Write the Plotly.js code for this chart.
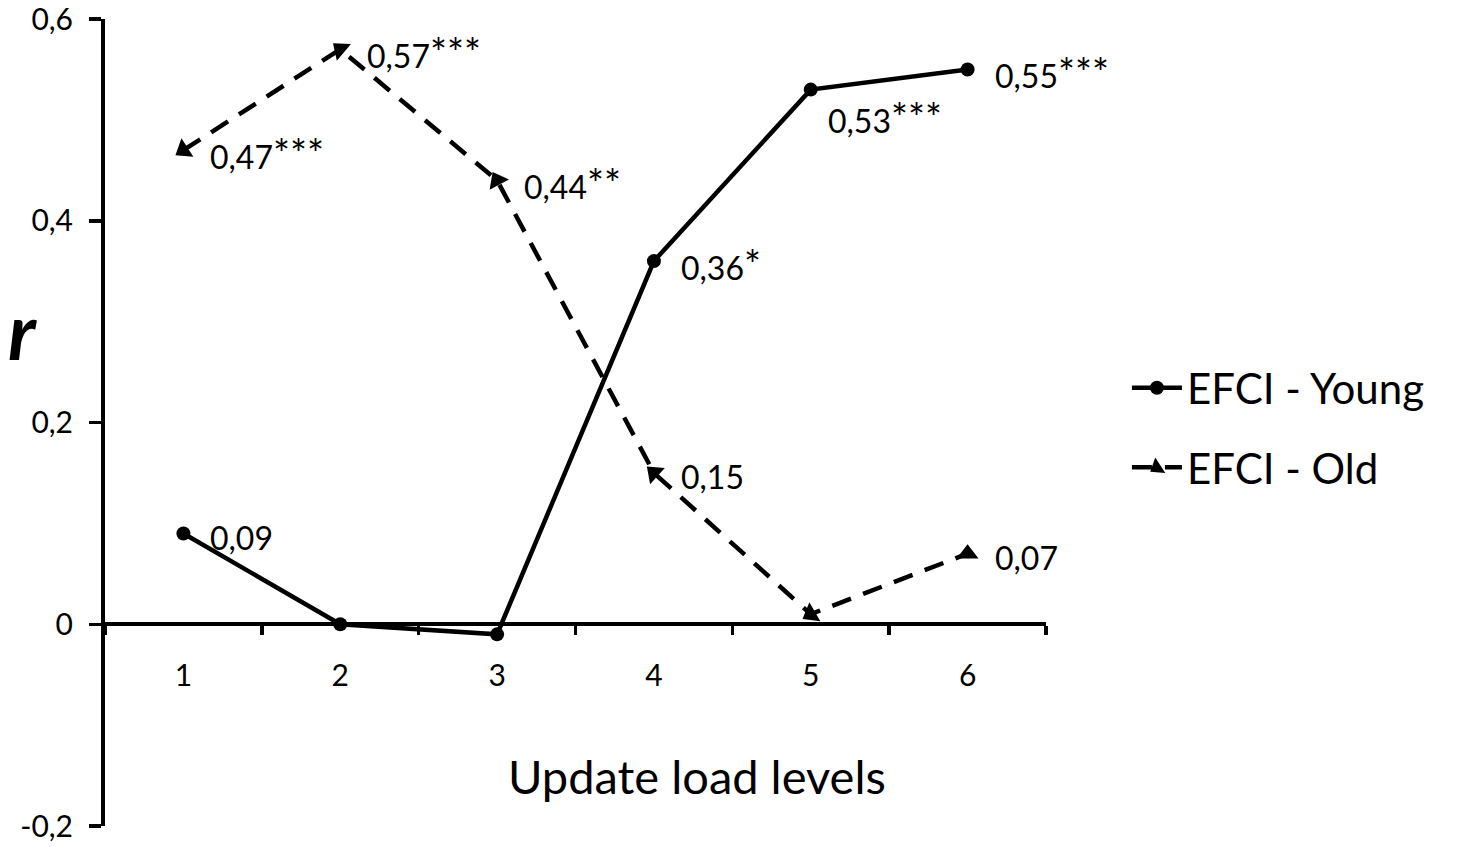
<!DOCTYPE html>
<html>
<head>
<meta charset="utf-8">
<script src="https://cdn.plot.ly/plotly-3.0.1.min.js"></script>
<style>
  html, body { margin: 0; padding: 0; background: #ffffff; }
  #chart { width: 1465px; height: 847px; }
</style>
</head>
<body>
<div id="chart"></div>
<script>
const levels = ['1', '2', '3', '4', '5', '6'];
const youngValues = [0.09, 0, -0.01, 0.36, 0.53, 0.55];
const oldValues = [0.47, 0.57, 0.44, 0.15, 0.01, 0.07];
const youngLabels = ['0,09', '', '', '0,36*', '0,53***', '0,55***'];
const oldLabels = ['0,47***', '0,57***', '0,44**', '0,15', '', '0,07'];
const yTickVals = [-0.2, 0, 0.2, 0.4, 0.6];
const yTickText = ['-0,2', '0', '0,2', '0,4', '0,6'];
const seriesNames = ['EFCI - Young', 'EFCI - Old'];
const xTitle = 'Update load levels';
const yTitle = 'r';

const FONT = 'Lato, "Open Sans", sans-serif';

// marker rotation (style): arrow-like triangles as in the original
const oldMarkerAngles = [-123, -50, -28, -48, -120, 0];

const traces = [
  {
    x: levels, y: youngValues, name: seriesNames[0],
    type: 'scatter', mode: 'lines+markers',
    line: { color: '#000', width: 4.5 },
    marker: { symbol: 'circle', size: 14, color: '#000' },
    cliponaxis: false, legendgroup: 'a'
  },
  {
    x: levels, y: oldValues, name: seriesNames[1],
    type: 'scatter', mode: 'lines+markers',
    line: { color: '#000', width: 4.5, dash: '20px,13px' },
    marker: { symbol: 'triangle-up', size: 19, color: '#000', angle: oldMarkerAngles },
    cliponaxis: false, legendgroup: 'b'
  }
];

function fmtLabel(t) {
  return t.replace(/(\*+)/, '<span style="font-size:40px">$1</span>');
}

// label placement (pixels), one special case below the point
function labelAnn(idx, y, text, special) {
  return {
    x: idx, y: y, xref: 'x', yref: 'y', text: fmtLabel(text), showarrow: false,
    xanchor: 'left', yanchor: 'middle',
    xshift: special ? 15 : 25, yshift: special ? -28 : -4,
    font: { family: FONT, size: 32, color: '#000' }
  };
}

const annotations = [];
levels.forEach((lv, i) => {
  if (youngLabels[i]) annotations.push(labelAnn(i, youngValues[i], youngLabels[i], i === 4));
  if (oldLabels[i]) annotations.push(labelAnn(i, oldValues[i], oldLabels[i], false));
});
annotations.push({
  text: xTitle, xref: 'paper', yref: 'y', x: 0.629, y: -0.15,
  showarrow: false, xanchor: 'center', yanchor: 'middle',
  font: { family: FONT, size: 47, color: '#000' }
});
annotations.push({
  text: yTitle, xref: 'paper', yref: 'y', x: -0.088, y: 0.292,
  showarrow: false, xanchor: 'center', yanchor: 'middle',
  font: { family: FONT, size: 78, color: '#000', style: 'italic', weight: 'bold' }
});

const layout = {
  width: 1465, height: 847,
  margin: { l: 105, r: 419, t: 19, b: 21 },
  paper_bgcolor: '#fff', plot_bgcolor: '#fff',
  font: { family: FONT, color: '#000' },
  showlegend: true,
  xaxis: {
    type: 'category', categoryorder: 'array', categoryarray: levels,
    range: [-0.5, 5.5], anchor: 'free', position: 0.25,
    showline: true, linewidth: 4, linecolor: '#000',
    ticks: 'outside', tickson: 'boundaries', ticklen: 9, tickwidth: 3.5, tickcolor: '#000',
    tickfont: { family: FONT, size: 30, color: '#000' }, ticklabelstandoff: 24,
    showgrid: false, zeroline: false, fixedrange: true
  },
  yaxis: {
    range: [-0.2, 0.6], showline: true, linewidth: 4, linecolor: '#000',
    ticks: 'outside', ticklen: 12, tickwidth: 3.5, tickcolor: '#000',
    tickmode: 'array', tickvals: yTickVals, ticktext: yTickText,
    tickfont: { family: FONT, size: 30, color: '#000' }, ticklabelstandoff: 10,
    ticklabeloverflow: 'allow',
    showgrid: false, zeroline: false, fixedrange: true
  },
  legend: {
    x: 1.086, xanchor: 'left', y: 0.585, yanchor: 'top',
    font: { family: FONT, size: 42, color: '#000' },
    bgcolor: 'rgba(0,0,0,0)', tracegroupgap: 22, itemwidth: 50
  },
  annotations: annotations
};

Plotly.newPlot('chart', traces, layout, { displayModeBar: false, staticPlot: true });
</script>
</body>
</html>
